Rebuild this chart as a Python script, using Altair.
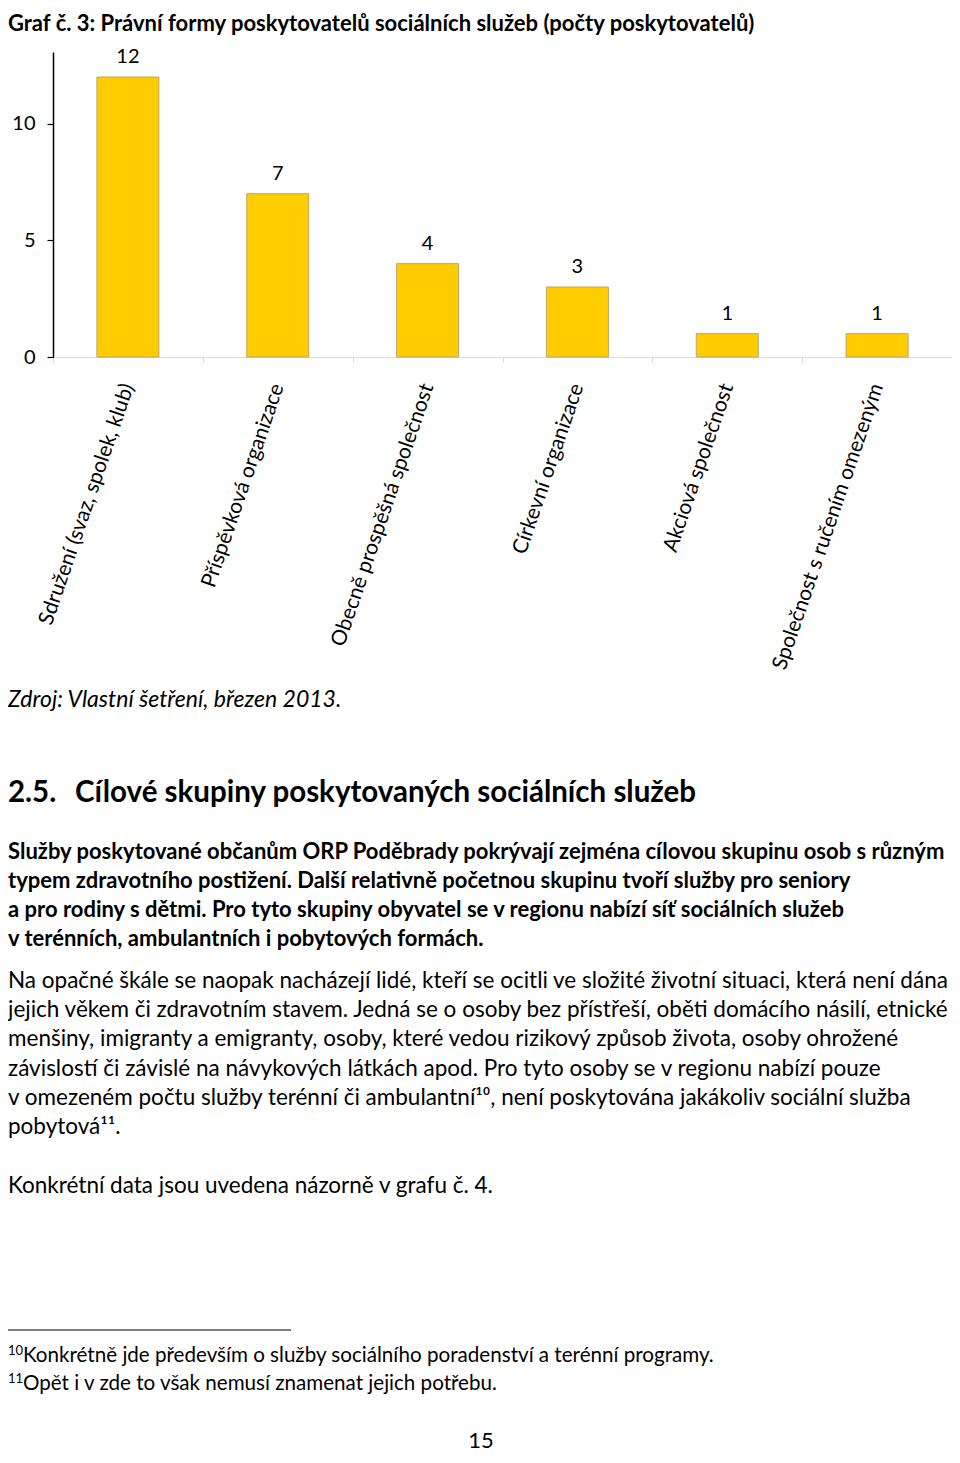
import altair as alt
import pandas as pd

# ---- chart data ----
categories = [
    "Sdružení (svaz, spolek, klub)",
    "Příspěvková organizace",
    "Obecně prospěšná společnost",
    "Církevní organizace",
    "Akciová společnost",
    "Společnost s ručením omezeným",
]
counts = [12, 7, 4, 3, 1, 1]
y_ticks = [0, 5, 10]

# ---- page text ----
chart_title = "Graf č. 3: Právní formy poskytovatelů sociálních služeb (počty poskytovatelů)"
source_note = "Zdroj: Vlastní šetření, březen 2013."
heading_num = "2.5."
heading_text = "Cílové skupiny poskytovaných sociálních služeb"
bold_lines = [
    "Služby poskytované občanům ORP Poděbrady pokrývají zejména cílovou skupinu osob s různým",
    "typem zdravotního postižení. Další relativně početnou skupinu tvoří služby pro seniory",
    "a pro rodiny s dětmi. Pro tyto skupiny obyvatel se v regionu nabízí síť sociálních služeb",
    "v terénních, ambulantních i pobytových formách.",
]
regular_lines = [
    "Na opačné škále se naopak nacházejí lidé, kteří se ocitli ve složité životní situaci, která není dána",
    "jejich věkem či zdravotním stavem. Jedná se o osoby bez přístřeší, oběti domácího násilí, etnické",
    "menšiny, imigranty a emigranty, osoby, které vedou rizikový způsob života, osoby ohrožené",
    "závislostí či závislé na návykových látkách apod. Pro tyto osoby se v regionu nabízí pouze",
    "v omezeném počtu služby terénní či ambulantní¹⁰, není poskytována jakákoliv sociální služba",
    "pobytová¹¹.",
]
closing_line = "Konkrétní data jsou uvedena názorně v grafu č. 4."
footnote_marks = ["10", "11"]
footnotes = [
    "Konkrétně jde především o služby sociálního poradenství a terénní programy.",
    "Opět i v zde to však nemusí znamenat jejich potřebu.",
]
page_number = "15"

FONT = "Lato"

# plot origin on the page
OX, OY = 53, 52
W, H = 899, 305
SVG_H = 1445


def px(x):
    return x - OX


def py(y):
    return y - OY


one = pd.DataFrame({"k": [0]})


def txt(s, x, y, size=21, weight="normal", style="normal", align="left", baseline="middle"):
    return alt.Chart(one).mark_text(
        text=s, font=FONT, fontSize=size, fontWeight=weight, fontStyle=style,
        align=align, baseline=baseline, color="#000000",
    ).encode(x=alt.value(px(x)), y=alt.value(py(y)))


df = pd.DataFrame({"cat": categories, "n": counts})

xenc = alt.X(
    "cat:N", sort=categories, title=None,
    scale=alt.Scale(paddingInner=0, paddingOuter=0),
    axis=alt.Axis(
        labelAngle=-71, labelFont=FONT, labelFontSize=21, labelColor="#000000",
        labelPadding=22, labelLimit=400, tickBand="extent", tickSize=5,
        tickColor="#d9d9d9", domainColor="#d9d9d9", domainWidth=1, grid=False,
    ),
)
yenc = alt.Y(
    "n:Q", title=None,
    scale=alt.Scale(domain=[0, 13.07], nice=False, zero=True),
    axis=alt.Axis(
        values=y_ticks, labelFont=FONT, labelFontSize=20, labelColor="#000000",
        labelPadding=12, tickSize=6, tickColor="#000000", domainColor="#000000",
        domainWidth=1.5, tickWidth=1.2, grid=False,
    ),
)

bars = alt.Chart(df).mark_bar(
    width=62, color="#FFCC00", stroke="#BFA66A", strokeWidth=1
).encode(x=xenc, y=yenc)

bar_labels = alt.Chart(df).mark_text(
    font=FONT, fontSize=20, color="#000000", baseline="alphabetic", dy=-14
).encode(x=alt.X("cat:N", sort=categories), y="n:Q", text="n:Q")

layers = [bars, bar_labels]

layers.append(txt(chart_title, 8, 24, size=22, weight="bold"))
layers.append(txt(source_note, 8, 700, size=23, style="italic"))
layers.append(txt(heading_num, 8, 793, size=29.5, weight="bold"))
layers.append(txt(heading_text, 75, 793, size=29.5, weight="bold"))

for i, line in enumerate(bold_lines):
    layers.append(txt(line, 8, 852 + i * 29, size=22, weight="bold"))
for i, line in enumerate(regular_lines):
    layers.append(txt(line, 8, 981 + i * 29.2, size=22.5))
layers.append(txt(closing_line, 8, 1186, size=22.5))

layers.append(
    alt.Chart(one).mark_rule(color="#000000", strokeWidth=1).encode(
        x=alt.value(px(8)), x2=alt.value(px(291)), y=alt.value(py(1330))
    )
)
for i, (m, f) in enumerate(zip(footnote_marks, footnotes)):
    layers.append(txt(m, 8, 1351 + i * 28, size=13))
    layers.append(txt(f, 23, 1356 + i * 28, size=20.6))

layers.append(txt(page_number, 481, 1441, size=22, align="center"))

chart = alt.layer(*layers).properties(
    width=W, height=H,
    autosize=alt.AutoSizeParams(type="none"),
    padding={"left": 45, "top": 44, "right": 0, "bottom": SVG_H - 44 - H},
    background="white",
).configure_view(stroke=None)

chart.save("out.html", embed_options={"renderer": "svg", "actions": False})
